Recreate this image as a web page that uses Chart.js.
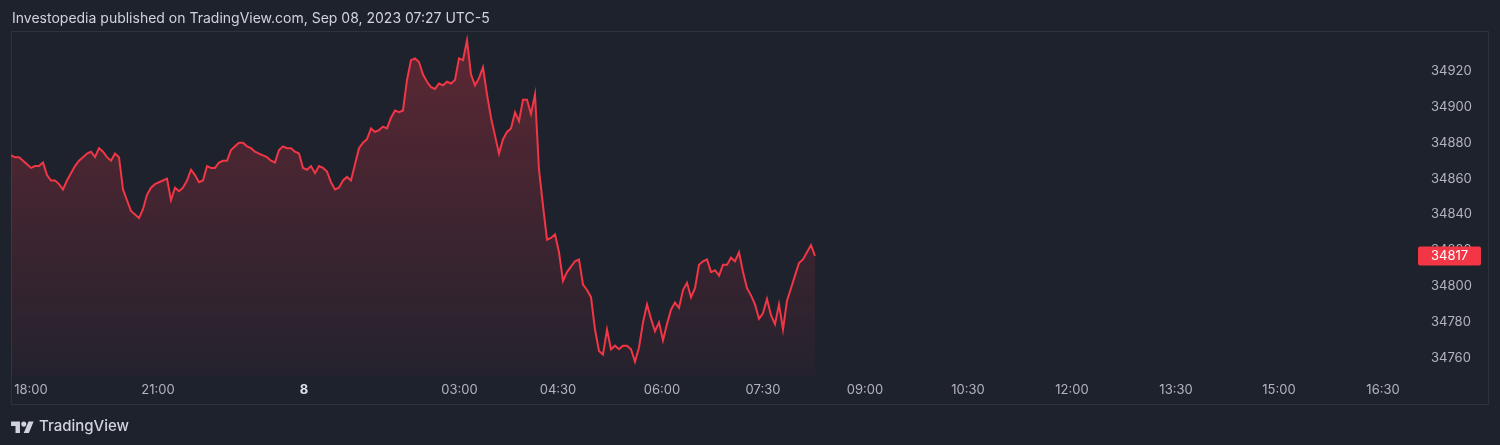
<!DOCTYPE html>
<html>
<head>
<meta charset="utf-8">
<script src="https://cdn.jsdelivr.net/npm/chart.js@4.4.0/dist/chart.umd.min.js"></script>
<style>
  body { margin: 0; background: #1e222d; }
  #wrap { position: relative; width: 1500px; height: 445px; background: #1e222d; overflow: hidden; }
  #c { position: absolute; left: 0; top: 0; }
  .title { position: absolute; left: 12px; top: 10px; font: 14px Inter, "Noto Sans", sans-serif; line-height: 16px; color: #d1d4dc; }
  .brand { position: absolute; left: 11px; top: 416px; display: flex; align-items: center; gap: 5px;
           font: 500 15px Inter, "Noto Sans", sans-serif; color: #d1d4dc; }
</style>
</head>
<body>
<div id="wrap">
  <canvas id="c" width="1500" height="445"></canvas>
  <div class="title">Investopedia published on TradingView.com, Sep 08, 2023 07:27 UTC-5</div>
  <div class="brand">
    <svg width="23" height="14" viewBox="0 0 36 22"><path fill="#d1d4dc" d="M14 22H7V11H0V4h14v18zM28 22h-8l7.5-18h8L28 22z"/><circle fill="#d1d4dc" cx="20" cy="8" r="4"/></svg>
    <span>TradingView</span>
  </div>
</div>
<script>
// Dow futures, 1 sample per bar step
const prices = [
  34873, 34872, 34872, 34870, 34868, 34866, 34867, 34867, 34869, 34862,
  34859, 34859, 34857, 34854, 34859, 34863, 34867, 34870, 34872, 34874,
  34875, 34872, 34877, 34875, 34872, 34870, 34874, 34872, 34854, 34848,
  34842, 34840, 34838, 34843, 34851, 34855, 34857, 34858, 34859, 34860,
  34848, 34855, 34853, 34855, 34859, 34865, 34862, 34858, 34859, 34867,
  34866, 34866, 34869, 34870, 34870, 34876, 34878, 34880, 34880, 34878,
  34877, 34875, 34874, 34873, 34872, 34870, 34869, 34876, 34878, 34877,
  34877, 34875, 34874, 34866, 34865, 34867, 34863, 34867, 34866, 34864,
  34858, 34854, 34855, 34859, 34861, 34859, 34868, 34877, 34880, 34882,
  34888, 34886, 34887, 34889, 34888, 34894, 34898, 34897, 34898, 34915,
  34926, 34927, 34925, 34918, 34914, 34911, 34910, 34913, 34912, 34914,
  34913, 34915, 34927, 34926, 34937, 34918, 34912, 34916, 34922, 34907,
  34894, 34884, 34874, 34882, 34886, 34888, 34897, 34892, 34904, 34904,
  34896, 34907, 34865, 34845, 34826, 34827, 34829, 34819, 34803, 34808,
  34811, 34814, 34815, 34801, 34798, 34794, 34776, 34764, 34762, 34776,
  34765, 34767, 34765, 34767, 34767, 34765, 34758, 34766, 34780, 34790,
  34782, 34775, 34780, 34770, 34779, 34787, 34791, 34788, 34798, 34802,
  34794, 34799, 34812, 34814, 34815, 34808, 34809, 34806, 34812, 34812,
  34816, 34814, 34819, 34808, 34799, 34795, 34790, 34782, 34785, 34793,
  34784, 34779, 34790, 34776, 34792, 34799, 34806, 34813, 34815, 34819,
  34823, 34817
];
const lastPrice = 34817;

const priceTicks = [34760, 34780, 34800, 34820, 34840, 34860, 34880, 34900, 34920];
const timeLabels = ['18:00', '21:00', '8', '03:00', '04:30', '06:00', '07:30', '09:00', '10:30', '12:00', '13:30', '15:00', '16:30'];
const timeTicks  = [5, 36.75, 73.25, 112.1, 136.75, 162.75, 188, 213.5, 239.25, 265.25, 291.25, 317, 343];
const dayLabel = '8';

const RED = '#f23645';
const AXIS_TXT = '#b2b5be';

// frame, last price badge
const framePlugin = {
  id: 'frame',
  beforeDraw(chart) {
    const ctx = chart.ctx;
    ctx.save();
    ctx.strokeStyle = '#2e323e';
    ctx.lineWidth = 1;
    ctx.strokeRect(11.5, 31.5, 1477, 373);
    ctx.restore();
  },
  afterDraw(chart) {
    const ctx = chart.ctx, y = chart.scales.y;
    const py = y.getPixelForValue(lastPrice);
    ctx.save();
    ctx.fillStyle = RED;
    ctx.beginPath();
    ctx.roundRect(1418, py - 9.5, 63, 19, 2);
    ctx.fill();
    ctx.fillStyle = '#ffffff';
    ctx.font = '13px Inter, "Noto Sans", sans-serif';
    ctx.textBaseline = 'middle';
    ctx.textAlign = 'left';
    ctx.fillText(String(lastPrice), 1431, py + 0.5);
    ctx.restore();
  }
};

const ctx = document.getElementById('c').getContext('2d');
new Chart(ctx, {
  type: 'line',
  data: {
    datasets: [{
      data: prices.map((p, i) => ({ x: i, y: p })),
      borderColor: RED,
      borderWidth: 2,
      pointRadius: 0,
      tension: 0,
      fill: 'start',
      backgroundColor(c) {
        const a = c.chart.chartArea;
        if (!a) return 'rgba(242,54,69,0.15)';
        const g = c.chart.ctx.createLinearGradient(0, a.top, 0, a.bottom);
        g.addColorStop(0, 'rgba(242,54,69,0.30)');
        g.addColorStop(1, 'rgba(242,54,69,0.03)');
        return g;
      }
    }]
  },
  options: {
    responsive: false,
    animation: false,
    devicePixelRatio: 1,
    layout: { padding: { left: 11, top: 32, right: 27, bottom: 41 } },
    plugins: { legend: { display: false }, tooltip: { enabled: false } },
    scales: {
      x: {
        type: 'linear',
        min: 0,
        max: 349.75,
        grid: { display: false, drawTicks: false },
        border: { display: false },
        afterFit(s) { s.height = 28; },
        afterBuildTicks(s) { s.ticks = timeTicks.map(v => ({ value: v })); },
        ticks: {
          autoSkip: false,
          maxRotation: 0,
          padding: 6,
          callback: (v, i) => timeLabels[i],
          color: c => (timeLabels[c.index] === dayLabel ? '#e0e3eb' : AXIS_TXT),
          font: c => ({ family: 'Inter, "Noto Sans", sans-serif', size: 13,
                        weight: timeLabels[c.index] === dayLabel ? 'bold' : 'normal' })
        }
      },
      y: {
        position: 'right',
        min: 34750.1,
        max: 34941.7,
        grid: { display: false, drawTicks: false },
        border: { display: false },
        afterFit(s) { s.width = 63; },
        afterBuildTicks(s) { s.ticks = priceTicks.map(v => ({ value: v })); },
        ticks: {
          padding: 21,
          color: AXIS_TXT,
          font: { family: 'Inter, "Noto Sans", sans-serif', size: 13 },
          callback: v => String(v)
        }
      }
    }
  },
  plugins: [framePlugin]
});
</script>
</body>
</html>
